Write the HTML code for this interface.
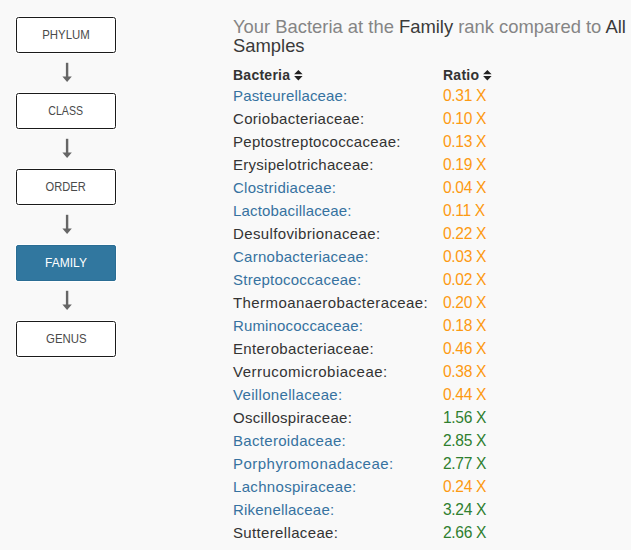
<!DOCTYPE html>
<html><head><meta charset="utf-8">
<style>
html,body{margin:0;padding:0;}
body{width:631px;height:550px;background:#f9f9f9;font-family:"Liberation Sans",sans-serif;position:relative;overflow:hidden;color:#333;}
.box{position:absolute;left:16px;width:98px;height:34px;border:1px solid #1a1a1a;border-radius:2.5px;background:#fff;box-shadow:0 0 0 1px #fff;font-size:12px;line-height:34px;text-align:center;color:#4a4a4a;}
.box span{display:inline-block;}
.box.active{background:#31779f;border-color:#2a6d94;color:#fff;border-radius:2px;}
.arr{position:absolute;left:62.3px;width:10px;height:20px;}
.title{position:absolute;left:233px;top:17px;font-size:18.4px;line-height:19px;color:#858585;width:400px;}
.title b{font-weight:normal;color:#3a3a3a;}
table{position:absolute;left:233px;top:64px;border-collapse:collapse;}
td,th{padding:0;height:23px;font-size:14px;text-align:left;white-space:nowrap;}
td{font-size:15px;}
td+td{letter-spacing:-0.35px;font-size:15.6px;}
th{height:20px;letter-spacing:0.25px;}
th span{position:relative;top:1px;}
th svg{margin-left:0px;vertical-align:-1px;}
th{font-weight:bold;color:#333;}
.c1{width:210px;}
.bl{color:#3672a0;}
.dk{color:#333;}
.or{color:#fd9a12;}
.gr{color:#2f7f2f;}
</style></head><body>
<div class="box" style="top:17px"><span style="transform:scaleX(0.950)">PHYLUM</span></div>
<div class="box" style="top:93px"><span style="transform:scaleX(0.880)">CLASS</span></div>
<div class="box" style="top:169px"><span style="transform:scaleX(0.926)">ORDER</span></div>
<div class="box active" style="top:245px">FAMILY</div>
<div class="box" style="top:321px"><span style="transform:scaleX(0.950)">GENUS</span></div>

<svg class="arr" style="top:62px" viewBox="0 0 10 20"><rect x="3.9" y="0.8" width="2.4" height="15" fill="#666"/><path d="M0.4 14.6 L9.8 14.6 L5.1 20 Z" fill="#666"/></svg>
<svg class="arr" style="top:138px" viewBox="0 0 10 20"><rect x="3.9" y="0.8" width="2.4" height="15" fill="#666"/><path d="M0.4 14.6 L9.8 14.6 L5.1 20 Z" fill="#666"/></svg>
<svg class="arr" style="top:214px" viewBox="0 0 10 20"><rect x="3.9" y="0.8" width="2.4" height="15" fill="#666"/><path d="M0.4 14.6 L9.8 14.6 L5.1 20 Z" fill="#666"/></svg>
<svg class="arr" style="top:290px" viewBox="0 0 10 20"><rect x="3.9" y="0.8" width="2.4" height="15" fill="#666"/><path d="M0.4 14.6 L9.8 14.6 L5.1 20 Z" fill="#666"/></svg>

<div class="title">Your Bacteria at the <b>Family</b> rank compared to <b>All Samples</b></div>

<table>
<tr><th class="c1"><span>Bacteria <svg width="9" height="11" viewBox="0 0 9 11"><path d="M0.1 4.3 L4.35 0 L8.6 4.3 Z M0.1 6.1 L8.6 6.1 L4.35 10.4 Z" fill="#222"/></svg></span></th><th><span>Ratio <svg width="9" height="11" viewBox="0 0 9 11"><path d="M0.1 4.3 L4.35 0 L8.6 4.3 Z M0.1 6.1 L8.6 6.1 L4.35 10.4 Z" fill="#222"/></svg></span></th></tr>
<tr><td class="bl" style="letter-spacing:0.17px">Pasteurellaceae:</td><td class="or">0.31 X</td></tr>
<tr><td class="dk" style="letter-spacing:0.31px">Coriobacteriaceae:</td><td class="or">0.10 X</td></tr>
<tr><td class="dk" style="letter-spacing:0.31px">Peptostreptococcaceae:</td><td class="or">0.13 X</td></tr>
<tr><td class="dk" style="letter-spacing:0.28px">Erysipelotrichaceae:</td><td class="or">0.19 X</td></tr>
<tr><td class="bl" style="letter-spacing:0.27px">Clostridiaceae:</td><td class="or">0.04 X</td></tr>
<tr><td class="bl" style="letter-spacing:0.16px">Lactobacillaceae:</td><td class="or">0.11 X</td></tr>
<tr><td class="dk" style="letter-spacing:0.37px">Desulfovibrionaceae:</td><td class="or">0.22 X</td></tr>
<tr><td class="bl" style="letter-spacing:0.26px">Carnobacteriaceae:</td><td class="or">0.03 X</td></tr>
<tr><td class="bl" style="letter-spacing:0.24px">Streptococcaceae:</td><td class="or">0.02 X</td></tr>
<tr><td class="dk" style="letter-spacing:0.42px">Thermoanaerobacteraceae:</td><td class="or">0.20 X</td></tr>
<tr><td class="bl" style="letter-spacing:0.15px">Ruminococcaceae:</td><td class="or">0.18 X</td></tr>
<tr><td class="dk" style="letter-spacing:0.36px">Enterobacteriaceae:</td><td class="or">0.46 X</td></tr>
<tr><td class="dk" style="letter-spacing:0.48px">Verrucomicrobiaceae:</td><td class="or">0.38 X</td></tr>
<tr><td class="bl" style="letter-spacing:0.33px">Veillonellaceae:</td><td class="or">0.44 X</td></tr>
<tr><td class="dk" style="letter-spacing:0.29px">Oscillospiraceae:</td><td class="gr">1.56 X</td></tr>
<tr><td class="bl" style="letter-spacing:0.31px">Bacteroidaceae:</td><td class="gr">2.85 X</td></tr>
<tr><td class="bl" style="letter-spacing:0.47px">Porphyromonadaceae:</td><td class="gr">2.77 X</td></tr>
<tr><td class="bl" style="letter-spacing:0.32px">Lachnospiraceae:</td><td class="or">0.24 X</td></tr>
<tr><td class="bl" style="letter-spacing:0.21px">Rikenellaceae:</td><td class="gr">3.24 X</td></tr>
<tr><td class="dk" style="letter-spacing:0.35px">Sutterellaceae:</td><td class="gr">2.66 X</td></tr>
</table>
</body></html>
